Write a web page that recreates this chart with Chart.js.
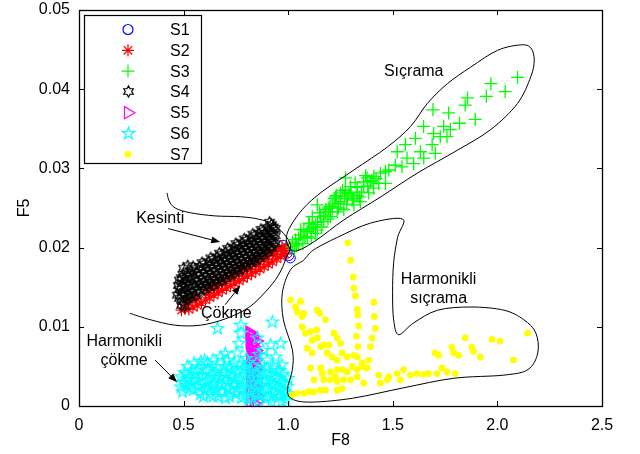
<!DOCTYPE html>
<html>
<head>
<meta charset="utf-8">
<script src="https://cdn.jsdelivr.net/npm/chart.js@4.4.0/dist/chart.umd.min.js"></script>
<style>
  html, body { margin: 0; padding: 0; background: #fff; }
  canvas { display: block; }
</style>
</head>
<body>
<canvas id="scatterChart" width="640" height="454"></canvas>
<script>
// Noms des séries et graduations
const seriesNames = ['S1', 'S2', 'S3', 'S4', 'S5', 'S6', 'S7'];
const xTicks = [0, 0.5, 1, 1.5, 2, 2.5];
const yTicks = [0, 0.01, 0.02, 0.03, 0.04, 0.05];

// Points [F8, F5]
const s1 = [[0.975, 0.0203], [0.985, 0.0198], [0.995, 0.0193], [1.003, 0.0190], [1.010, 0.0187]];

const s2 = [
  [0.490, 0.0121], [0.505, 0.0123], [0.525, 0.0122], [0.545, 0.0125], [0.565, 0.0127], [0.585, 0.0130],
  [0.605, 0.0134], [0.625, 0.0137], [0.645, 0.0140], [0.665, 0.0143], [0.685, 0.0146], [0.705, 0.0149],
  [0.725, 0.0152], [0.745, 0.0155], [0.765, 0.0158], [0.785, 0.0161], [0.805, 0.0164], [0.825, 0.0167],
  [0.845, 0.0170], [0.865, 0.0173], [0.885, 0.0176], [0.905, 0.0179], [0.925, 0.0182], [0.945, 0.0186],
  [0.965, 0.0189], [0.985, 0.0192], [0.610, 0.0147], [0.630, 0.0150], [0.650, 0.0153], [0.670, 0.0156],
  [0.690, 0.0159], [0.710, 0.0162], [0.730, 0.0165], [0.750, 0.0168], [0.770, 0.0171], [0.790, 0.0174],
  [0.810, 0.0177], [0.830, 0.0180], [0.850, 0.0183], [0.870, 0.0186], [0.890, 0.0189], [0.910, 0.0192],
  [0.930, 0.0195], [0.950, 0.0198], [0.970, 0.0201], [0.990, 0.0201], [0.515, 0.0132], [0.540, 0.0134],
  [0.560, 0.0136], [0.620, 0.0142], [0.660, 0.0148], [0.700, 0.0155], [0.740, 0.0161], [0.780, 0.0167],
  [0.820, 0.0173], [0.860, 0.0179], [0.900, 0.0185], [0.940, 0.0191], [0.980, 0.0197]
];

const s3 = [
  [2.096, 0.0415], [1.969, 0.0407], [1.947, 0.0391], [2.037, 0.0397], [1.857, 0.0389], [1.846, 0.0380],
  [1.894, 0.0362], [1.692, 0.0374], [1.767, 0.0370], [1.819, 0.0357], [1.647, 0.0353], [1.743, 0.0353],
  [1.775, 0.0349], [1.695, 0.0344], [1.727, 0.0340], [1.759, 0.0340], [1.608, 0.0338], [1.560, 0.0330],
  [1.688, 0.0330], [1.521, 0.0321], [1.632, 0.0321], [1.703, 0.0319], [1.568, 0.0313], [1.648, 0.0313],
  [1.600, 0.0306], [1.512, 0.0304], [1.544, 0.0302], [1.481, 0.0298], [1.465, 0.0296], [1.441, 0.0294],
  [1.409, 0.0290], [1.377, 0.0288], [1.393, 0.0283], [1.433, 0.0281], [1.465, 0.0281], [1.409, 0.0275],
  [1.361, 0.0277], [1.385, 0.0269], [1.274, 0.0288], [1.298, 0.0277], [1.274, 0.0273], [1.330, 0.0266],
  [1.306, 0.0260], [1.282, 0.0262], [1.250, 0.0269], [1.226, 0.0264], [1.242, 0.0256], [1.210, 0.0254],
  [1.194, 0.0250], [1.178, 0.0245], [1.139, 0.0254], [1.115, 0.0239], [1.155, 0.0239], [1.099, 0.0231],
  [1.131, 0.0229], [1.075, 0.0222], [1.059, 0.0216], [1.091, 0.0214], [1.035, 0.0210], [1.051, 0.0205],
  [1.019, 0.0201], [1.234, 0.0245], [1.266, 0.0248], [1.314, 0.0254], [1.345, 0.0258], [1.202, 0.0239],
  [1.170, 0.0233], [1.139, 0.0222], [1.030, 0.0198], [1.050, 0.0212], [1.070, 0.0205], [1.090, 0.0220],
  [1.110, 0.0212], [1.120, 0.0226], [1.140, 0.0232], [1.160, 0.0226], [1.170, 0.0240], [1.190, 0.0236],
  [1.210, 0.0245], [1.220, 0.0262], [1.240, 0.0250], [1.250, 0.0258], [1.270, 0.0265], [1.280, 0.0255],
  [1.300, 0.0270], [1.310, 0.0262], [1.330, 0.0276], [1.350, 0.0270], [1.360, 0.0283], [1.380, 0.0278],
  [1.400, 0.0285], [1.420, 0.0287], [1.060, 0.0223], [1.100, 0.0230], [1.130, 0.0218], [1.180, 0.0248],
  [1.260, 0.0272], [1.320, 0.0282], [1.020, 0.0207], [1.040, 0.0203], [1.080, 0.0213], [1.150, 0.0244],
  [1.200, 0.0252], [1.230, 0.0266], [1.290, 0.0268], [1.340, 0.0264], [1.370, 0.0291], [1.110, 0.0224]
];

const s4 = [
  [0.480, 0.0136], [0.480, 0.0147], [0.480, 0.0159],
  [0.497, 0.0132], [0.497, 0.0143], [0.497, 0.0155], [0.497, 0.0166],
  [0.515, 0.0135], [0.515, 0.0146], [0.515, 0.0157], [0.515, 0.0168],
  [0.535, 0.0137], [0.535, 0.0148], [0.535, 0.0160], [0.535, 0.0171],
  [0.556, 0.0139], [0.556, 0.0151], [0.556, 0.0161], [0.556, 0.0173],
  [0.577, 0.0144], [0.577, 0.0154], [0.577, 0.0165], [0.577, 0.0176],
  [0.598, 0.0147], [0.598, 0.0157], [0.598, 0.0168], [0.598, 0.0179],
  [0.620, 0.0150], [0.620, 0.0160], [0.620, 0.0171], [0.620, 0.0182],
  [0.641, 0.0152], [0.641, 0.0163], [0.641, 0.0174], [0.641, 0.0185],
  [0.660, 0.0156], [0.660, 0.0166], [0.660, 0.0177], [0.660, 0.0188],
  [0.682, 0.0158], [0.682, 0.0169], [0.682, 0.0180], [0.682, 0.0191],
  [0.700, 0.0161], [0.700, 0.0172], [0.700, 0.0183], [0.700, 0.0194],
  [0.722, 0.0165], [0.722, 0.0175], [0.722, 0.0186], [0.722, 0.0197],
  [0.741, 0.0167], [0.741, 0.0178], [0.741, 0.0189], [0.741, 0.0200],
  [0.760, 0.0171], [0.760, 0.0181], [0.760, 0.0192], [0.760, 0.0203],
  [0.781, 0.0173], [0.781, 0.0184], [0.781, 0.0195], [0.781, 0.0206],
  [0.800, 0.0177], [0.800, 0.0187], [0.800, 0.0198], [0.800, 0.0209],
  [0.822, 0.0180], [0.822, 0.0190], [0.822, 0.0201], [0.822, 0.0212],
  [0.840, 0.0183], [0.840, 0.0193], [0.840, 0.0204], [0.840, 0.0215],
  [0.861, 0.0186], [0.861, 0.0196], [0.861, 0.0207], [0.861, 0.0218],
  [0.880, 0.0190], [0.880, 0.0200], [0.880, 0.0210], [0.880, 0.0221],
  [0.902, 0.0194], [0.902, 0.0204], [0.902, 0.0214], [0.902, 0.0225],
  [0.920, 0.0199], [0.920, 0.0209], [0.920, 0.0219], [0.920, 0.0229],
  [0.938, 0.0205], [0.938, 0.0215], [0.938, 0.0224],
  [0.489, 0.0140], [0.489, 0.0151], [0.489, 0.0162],
  [0.506, 0.0139], [0.506, 0.0150], [0.506, 0.0161],
  [0.525, 0.0141], [0.525, 0.0152], [0.525, 0.0164],
  [0.545, 0.0143], [0.545, 0.0154], [0.545, 0.0166], [0.545, 0.0176],
  [0.566, 0.0146], [0.566, 0.0157], [0.566, 0.0168],
  [0.588, 0.0150], [0.588, 0.0160], [0.588, 0.0172], [0.588, 0.0181],
  [0.609, 0.0153], [0.609, 0.0163], [0.609, 0.0175],
  [0.630, 0.0156], [0.630, 0.0166], [0.630, 0.0178], [0.630, 0.0187],
  [0.650, 0.0159], [0.650, 0.0170], [0.650, 0.0181],
  [0.671, 0.0162], [0.671, 0.0173], [0.671, 0.0184], [0.671, 0.0193],
  [0.691, 0.0165], [0.691, 0.0176], [0.691, 0.0187],
  [0.711, 0.0168], [0.711, 0.0179], [0.711, 0.0190], [0.711, 0.0199],
  [0.731, 0.0171], [0.731, 0.0182], [0.731, 0.0193],
  [0.750, 0.0174], [0.750, 0.0185], [0.750, 0.0196], [0.750, 0.0205],
  [0.770, 0.0177], [0.770, 0.0188], [0.770, 0.0199],
  [0.790, 0.0180], [0.790, 0.0191], [0.790, 0.0202], [0.790, 0.0211],
  [0.811, 0.0183], [0.811, 0.0194], [0.811, 0.0205],
  [0.831, 0.0186], [0.831, 0.0197], [0.831, 0.0208], [0.831, 0.0217],
  [0.850, 0.0189], [0.850, 0.0200], [0.850, 0.0211],
  [0.870, 0.0193], [0.870, 0.0203], [0.870, 0.0214], [0.870, 0.0223],
  [0.891, 0.0197], [0.891, 0.0207], [0.891, 0.0218],
  [0.911, 0.0201], [0.911, 0.0211], [0.911, 0.0221], [0.911, 0.0232],
  [0.929, 0.0207], [0.929, 0.0217], [0.929, 0.0226],
  [0.470, 0.0140], [0.475, 0.0152], [0.490, 0.0127], [0.505, 0.0126], [0.500, 0.0174], [0.520, 0.0177]
];

const s5 = [
  [0.815, 0.0093], [0.818, 0.0089], [0.822, 0.0085], [0.816, 0.0081], [0.825, 0.0078], [0.819, 0.0074],
  [0.828, 0.0070], [0.821, 0.0066], [0.831, 0.0062], [0.823, 0.0058], [0.834, 0.0054], [0.826, 0.0050],
  [0.837, 0.0046], [0.828, 0.0042], [0.840, 0.0038], [0.830, 0.0034], [0.843, 0.0030], [0.832, 0.0026],
  [0.846, 0.0022], [0.834, 0.0018], [0.848, 0.0014], [0.836, 0.0010], [0.850, 0.0006], [0.838, 0.0003],
  [0.820, 0.0006], [0.822, 0.0016], [0.824, 0.0030], [0.820, 0.0044], [0.845, 0.0070], [0.848, 0.0082],
  [0.850, 0.0050], [0.817, 0.0091], [0.827, 0.0083], [0.833, 0.0075], [0.838, 0.0066], [0.842, 0.0058],
  [0.845, 0.0045], [0.847, 0.0035], [0.849, 0.0025], [0.852, 0.0012], [0.818, 0.0052], [0.818, 0.0035],
  [0.818, 0.0020], [0.820, 0.0068], [0.830, 0.0088]
];

const s6 = [
  [0.662, 0.0098], [0.924, 0.0106], [0.853, 0.0086], [0.916, 0.0077], [0.964, 0.0079], [0.773, 0.0102],
  [0.773, 0.0092], [0.765, 0.0079], [0.757, 0.0067], [0.880, 0.0070], [0.940, 0.0062], [0.700, 0.0066],
  [0.677, 0.0062], [0.709, 0.0058], [0.741, 0.0054], [0.600, 0.0057], [0.582, 0.0056], [0.550, 0.0054],
  [0.519, 0.0050], [0.614, 0.0054], [0.640, 0.0058], [0.800, 0.0060], [0.860, 0.0065], [0.900, 0.0058],
  [0.970, 0.0052], [0.487, 0.0037], [0.487, 0.0024], [0.500, 0.0030], [0.520, 0.0040], [0.530, 0.0022],
  [0.550, 0.0033], [0.560, 0.0045], [0.570, 0.0025], [0.590, 0.0038], [0.600, 0.0020], [0.610, 0.0030],
  [0.620, 0.0046], [0.630, 0.0024], [0.650, 0.0036], [0.660, 0.0050], [0.670, 0.0028], [0.680, 0.0018],
  [0.690, 0.0042], [0.700, 0.0032], [0.710, 0.0022], [0.720, 0.0048], [0.730, 0.0038], [0.740, 0.0026],
  [0.750, 0.0015], [0.760, 0.0044], [0.770, 0.0034], [0.780, 0.0022], [0.790, 0.0012], [0.800, 0.0040],
  [0.810, 0.0030], [0.820, 0.0018], [0.830, 0.0050], [0.840, 0.0036], [0.850, 0.0024], [0.860, 0.0014],
  [0.870, 0.0044], [0.880, 0.0032], [0.890, 0.0020], [0.900, 0.0010], [0.910, 0.0040], [0.920, 0.0028],
  [0.930, 0.0016], [0.940, 0.0035], [0.950, 0.0024], [0.960, 0.0012], [0.970, 0.0030], [0.980, 0.0018],
  [0.990, 0.0008], [0.995, 0.0025], [0.580, 0.0015], [0.640, 0.0012], [0.700, 0.0010], [0.750, 0.0028],
  [0.660, 0.0020], [0.540, 0.0028], [0.620, 0.0033], [0.900, 0.0048], [0.950, 0.0045], [0.850, 0.0042],
  [0.780, 0.0046], [0.720, 0.0012], [0.810, 0.0008], [0.860, 0.0006], [0.920, 0.0005], [0.970, 0.0006],
  [1.000, 0.0015], [0.495, 0.0018], [0.505, 0.0042], [0.515, 0.0026], [0.525, 0.0034], [0.545, 0.0020],
  [0.555, 0.0040], [0.565, 0.0032], [0.575, 0.0046], [0.585, 0.0027], [0.595, 0.0012], [0.605, 0.0044],
  [0.615, 0.0022], [0.625, 0.0015], [0.635, 0.0040], [0.645, 0.0028], [0.655, 0.0043], [0.665, 0.0012],
  [0.675, 0.0036], [0.685, 0.0026], [0.695, 0.0050], [0.705, 0.0040], [0.715, 0.0030], [0.725, 0.0020],
  [0.735, 0.0044], [0.745, 0.0034], [0.755, 0.0022], [0.765, 0.0052], [0.775, 0.0010], [0.785, 0.0030],
  [0.795, 0.0048], [0.805, 0.0020], [0.815, 0.0044], [0.825, 0.0010], [0.835, 0.0028], [0.845, 0.0016],
  [0.855, 0.0034], [0.865, 0.0026], [0.875, 0.0014], [0.885, 0.0042], [0.895, 0.0030], [0.905, 0.0022],
  [0.915, 0.0012], [0.925, 0.0036], [0.935, 0.0026], [0.945, 0.0014], [0.955, 0.0032], [0.965, 0.0020],
  [0.975, 0.0040], [0.985, 0.0028], [0.990, 0.0016], [0.998, 0.0035], [0.960, 0.0045], [0.930, 0.0048],
  [0.870, 0.0052], [0.810, 0.0055]
];

const s7 = [
  [1.285, 0.0206], [1.298, 0.0184], [1.311, 0.0163], [1.314, 0.0149], [1.322, 0.0139], [1.330, 0.0122],
  [1.333, 0.0115], [1.337, 0.0101], [1.326, 0.0088], [1.333, 0.0075], [1.409, 0.0131], [1.412, 0.0113],
  [1.417, 0.0098], [1.401, 0.0086], [1.393, 0.0075], [1.385, 0.0058], [1.011, 0.0134], [1.035, 0.0125],
  [1.059, 0.0132], [1.043, 0.0119], [1.067, 0.0113], [1.075, 0.0117], [1.139, 0.0121], [1.151, 0.0117],
  [1.178, 0.0109], [1.067, 0.0100], [1.083, 0.0092], [1.107, 0.0094], [1.136, 0.0096], [1.115, 0.0083],
  [1.139, 0.0086], [1.091, 0.0073], [1.115, 0.0067], [1.155, 0.0075], [1.170, 0.0077], [1.194, 0.0077],
  [1.218, 0.0092], [1.234, 0.0086], [1.250, 0.0079], [1.186, 0.0067], [1.210, 0.0062], [1.234, 0.0058],
  [1.258, 0.0067], [1.282, 0.0062], [1.314, 0.0064], [1.330, 0.0062], [1.354, 0.0054], [1.107, 0.0048],
  [1.155, 0.0048], [1.163, 0.0041], [1.202, 0.0043], [1.226, 0.0037], [1.234, 0.0046], [1.258, 0.0046],
  [1.282, 0.0043], [1.306, 0.0050], [1.330, 0.0046], [1.354, 0.0050], [1.377, 0.0048], [1.202, 0.0033],
  [1.234, 0.0031], [1.266, 0.0033], [1.298, 0.0033], [1.330, 0.0037], [1.361, 0.0029], [1.170, 0.0033],
  [1.123, 0.0033], [1.234, 0.0020], [1.258, 0.0022], [1.019, 0.0014], [1.043, 0.0016], [1.075, 0.0016],
  [1.099, 0.0018], [1.123, 0.0018], [1.155, 0.0020], [1.178, 0.0020], [1.433, 0.0039], [1.441, 0.0029],
  [1.473, 0.0033], [1.481, 0.0037], [1.520, 0.0041], [1.536, 0.0033], [1.552, 0.0046], [1.584, 0.0039],
  [1.616, 0.0041], [1.648, 0.0040], [1.671, 0.0041], [1.711, 0.0041], [1.735, 0.0048], [1.759, 0.0043],
  [1.799, 0.0041], [1.703, 0.0067], [1.719, 0.0064], [1.783, 0.0074], [1.791, 0.0067], [1.815, 0.0064],
  [1.846, 0.0086], [1.878, 0.0074], [1.886, 0.0069], [1.918, 0.0062], [1.974, 0.0084], [2.013, 0.0082],
  [2.077, 0.0058], [2.144, 0.0092]
];

// Contours dessinés à la main sur la figure (en unités des axes)
const regionSicrama = [
  [0.995, 0.0218], [1.058, 0.0245], [1.154, 0.0269], [1.314, 0.0298], [1.474, 0.0327], [1.585, 0.0353],
  [1.665, 0.0382], [1.761, 0.0407], [1.873, 0.0428], [2.000, 0.0449], [2.112, 0.0456], [2.160, 0.0452],
  [2.176, 0.0437], [2.160, 0.0416], [2.096, 0.0382], [1.968, 0.0349], [1.809, 0.0323], [1.617, 0.0294],
  [1.442, 0.0264], [1.266, 0.0235], [1.138, 0.0210], [1.043, 0.0196], [1.002, 0.0201]
];
const regionHarmSicrama = [
  [1.547, 0.0236], [1.394, 0.0231], [1.236, 0.0213], [1.121, 0.0197], [1.073, 0.0184], [1.011, 0.0172],
  [0.972, 0.0143], [0.977, 0.0109], [1.020, 0.0071], [1.020, 0.0046], [0.996, 0.0020], [1.025, 0.0008],
  [1.121, 0.0005], [1.312, 0.0010], [1.552, 0.0023], [1.791, 0.0035], [2.031, 0.0039], [2.146, 0.0046],
  [2.193, 0.0067], [2.184, 0.0092], [2.126, 0.0109], [2.031, 0.0121], [1.873, 0.0125], [1.715, 0.0121],
  [1.600, 0.0105], [1.528, 0.0090], [1.504, 0.0109], [1.499, 0.0143], [1.504, 0.0181], [1.523, 0.0213]
];
const curveLens = [
  [0.421, 0.0269], [0.431, 0.0259], [0.460, 0.0250], [0.532, 0.0244], [0.651, 0.0240], [0.771, 0.0239],
  [0.857, 0.0236], [0.924, 0.0230], [0.977, 0.0218], [1.011, 0.0203], [0.991, 0.0187], [0.953, 0.0165],
  [0.891, 0.0144], [0.809, 0.0124], [0.699, 0.0110], [0.580, 0.0102], [0.460, 0.0102], [0.340, 0.0109],
  [0.244, 0.0117]
];

// Flèches [départ, arrivée] et étiquettes
const arrows = [
  [[0.426, 0.0224], [0.675, 0.0207]],
  [[0.699, 0.0128], [0.771, 0.0152]],
  [[0.364, 0.0058], [0.469, 0.0030]]
];
const labels = [
  ['Sıçrama', 1.600, 0.0422],
  ['Kesinti', 0.388, 0.0236],
  ['Çökme', 0.704, 0.0117],
  ['Harmonikli', 0.216, 0.0081],
  ['çökme', 0.216, 0.0057],
  ['Harmonikli', 1.719, 0.0160],
  ['sıçrama', 1.719, 0.0136]
];

const FONT = '"Liberation Sans", Arial, Helvetica, sans-serif';

// Marqueurs MATLAB absents de Chart.js : hexagramme et pentagramme
function starCanvas(n, outer, inner, color) {
  const size = Math.ceil(outer * 2 + 4);
  const c = document.createElement('canvas');
  c.width = size;
  c.height = size;
  const g = c.getContext('2d');
  g.strokeStyle = color;
  g.lineWidth = 1.2;
  g.beginPath();
  for (let i = 0; i < n * 2; i++) {
    const r = i % 2 === 0 ? outer : inner;
    const a = -Math.PI / 2 + i * Math.PI / n;
    const x = size / 2 + r * Math.cos(a);
    const y = size / 2 + r * Math.sin(a);
    if (i === 0) g.moveTo(x, y); else g.lineTo(x, y);
  }
  g.closePath();
  g.stroke();
  return c;
}
const hexagram = starCanvas(6, 5.5, 3.2, '#000000');
const pentagram = starCanvas(5, 6.5, 2.6, '#00ffff');

const toXY = arr => arr.map(p => ({ x: p[0], y: p[1] }));

const datasets = [
  { data: toXY(s1), pointStyle: 'circle', pointRadius: 5, pointBorderColor: '#0000ff', pointBackgroundColor: 'rgba(0,0,0,0)', pointBorderWidth: 1 },
  { data: toXY(s2), pointStyle: 'star', pointRadius: 6, pointBorderColor: '#ff0000', pointBackgroundColor: 'rgba(0,0,0,0)', pointBorderWidth: 1.2 },
  { data: toXY(s3), pointStyle: 'cross', pointRadius: 6.5, pointBorderColor: '#00ff00', pointBackgroundColor: 'rgba(0,0,0,0)', pointBorderWidth: 1.3 },
  { data: toXY(s4), pointStyle: hexagram, pointRadius: 5 },
  { data: toXY(s5), pointStyle: 'triangle', rotation: 90, pointRadius: 7, pointBorderColor: '#ff00ff', pointBackgroundColor: 'rgba(0,0,0,0)', pointBorderWidth: 1.4 },
  { data: toXY(s6), pointStyle: pentagram, pointRadius: 6 },
  { data: toXY(s7), pointStyle: 'circle', pointRadius: 3.4, pointBorderWidth: 0, pointBackgroundColor: '#ffff00', pointBorderColor: '#ffff00' }
].map((d, i) => Object.assign(d, { label: seriesNames[i], order: 7 - i, showLine: false }));

// Courbe lissée (Catmull-Rom) passant par les points
function smoothPath(ctx, pts, closed) {
  const n = pts.length;
  const at = i => closed ? pts[(i + n) % n] : pts[Math.max(0, Math.min(n - 1, i))];
  ctx.beginPath();
  ctx.moveTo(pts[0][0], pts[0][1]);
  const segs = closed ? n : n - 1;
  for (let i = 0; i < segs; i++) {
    const p0 = at(i - 1), p1 = at(i), p2 = at(i + 1), p3 = at(i + 2);
    ctx.bezierCurveTo(
      p1[0] + (p2[0] - p0[0]) / 6, p1[1] + (p2[1] - p0[1]) / 6,
      p2[0] - (p3[0] - p1[0]) / 6, p2[1] - (p3[1] - p1[1]) / 6,
      p2[0], p2[1]
    );
  }
  if (closed) ctx.closePath();
}

function drawArrow(ctx, a, b) {
  const ang = Math.atan2(b[1] - a[1], b[0] - a[0]);
  const len = 9, half = 3.5;
  const bx = b[0] - len * Math.cos(ang), by = b[1] - len * Math.sin(ang);
  ctx.beginPath();
  ctx.moveTo(a[0], a[1]);
  ctx.lineTo(bx, by);
  ctx.stroke();
  ctx.beginPath();
  ctx.moveTo(b[0], b[1]);
  ctx.lineTo(bx + half * Math.sin(ang), by - half * Math.cos(ang));
  ctx.lineTo(bx - half * Math.sin(ang), by + half * Math.cos(ang));
  ctx.closePath();
  ctx.fill();
}

function legendMarker(ctx, i, x, y) {
  ctx.save();
  ctx.lineWidth = 1.2;
  if (i === 0) {
    ctx.strokeStyle = '#0000ff';
    ctx.beginPath(); ctx.arc(x, y, 5, 0, Math.PI * 2); ctx.stroke();
  } else if (i === 1 || i === 2) {
    ctx.strokeStyle = i === 1 ? '#ff0000' : '#00ff00';
    const r = i === 1 ? 6 : 6.5;
    ctx.beginPath();
    ctx.moveTo(x - r, y); ctx.lineTo(x + r, y);
    ctx.moveTo(x, y - r); ctx.lineTo(x, y + r);
    if (i === 1) {
      const d = r * Math.SQRT1_2;
      ctx.moveTo(x - d, y - d); ctx.lineTo(x + d, y + d);
      ctx.moveTo(x - d, y + d); ctx.lineTo(x + d, y - d);
    }
    ctx.stroke();
  } else if (i === 3) {
    ctx.drawImage(hexagram, Math.round(x - hexagram.width / 2), Math.round(y - hexagram.height / 2));
  } else if (i === 4) {
    ctx.strokeStyle = '#ff00ff';
    ctx.beginPath();
    ctx.moveTo(x + 7, y);
    ctx.lineTo(x - 3.5, y - 6.06);
    ctx.lineTo(x - 3.5, y + 6.06);
    ctx.closePath();
    ctx.stroke();
  } else if (i === 5) {
    ctx.drawImage(pentagram, Math.round(x - pentagram.width / 2), Math.round(y - pentagram.height / 2));
  } else {
    ctx.fillStyle = '#ffff00';
    ctx.beginPath(); ctx.arc(x, y, 3.4, 0, Math.PI * 2); ctx.fill();
  }
  ctx.restore();
}

const decorPlugin = {
  id: 'decor',
  afterDatasetsDraw(chart) {
    const ctx = chart.ctx;
    const xs = chart.scales.x, ys = chart.scales.y;
    const px = p => [xs.getPixelForValue(p[0]), ys.getPixelForValue(p[1])];
    ctx.save();
    ctx.strokeStyle = '#000';
    ctx.fillStyle = '#000';
    ctx.lineWidth = 1;
    smoothPath(ctx, regionSicrama.map(px), true); ctx.stroke();
    smoothPath(ctx, regionHarmSicrama.map(px), true); ctx.stroke();
    smoothPath(ctx, curveLens.map(px), false); ctx.stroke();
    arrows.forEach(([a, b]) => drawArrow(ctx, px(a), px(b)));
    ctx.font = '16px ' + FONT;
    ctx.textAlign = 'center';
    ctx.textBaseline = 'middle';
    labels.forEach(([t, x, y]) => ctx.fillText(t, xs.getPixelForValue(x), ys.getPixelForValue(y)));
    ctx.restore();
  },
  afterDraw(chart) {
    const ctx = chart.ctx;
    const a = chart.chartArea;
    const xs = chart.scales.x, ys = chart.scales.y;
    ctx.save();

    // Légende
    const lx = 84.5, ly = 15.5, lw = 117, lh = 148;
    ctx.fillStyle = '#fff';
    ctx.fillRect(lx, ly, lw, lh);
    ctx.strokeStyle = '#000';
    ctx.lineWidth = 1.2;
    ctx.strokeRect(lx, ly, lw, lh);
    ctx.font = '16px ' + FONT;
    ctx.textAlign = 'left';
    ctx.textBaseline = 'middle';
    seriesNames.forEach((name, i) => {
      const y = 29.5 + i * 20.8;
      legendMarker(ctx, i, 128, y);
      ctx.fillStyle = '#000';
      ctx.fillText(name, 170, y + 1);
    });

    // Cadre et graduations vers l'intérieur
    ctx.strokeStyle = '#000';
    ctx.lineWidth = 1.3;
    ctx.strokeRect(a.left + 0.5, a.top + 0.5, a.right - a.left, a.bottom - a.top);
    ctx.lineWidth = 1;
    ctx.beginPath();
    xTicks.forEach(v => {
      const x = Math.round(xs.getPixelForValue(v)) + 0.5;
      ctx.moveTo(x, a.bottom); ctx.lineTo(x, a.bottom - 5);
      ctx.moveTo(x, a.top); ctx.lineTo(x, a.top + 5);
    });
    yTicks.forEach(v => {
      const y = Math.round(ys.getPixelForValue(v)) + 0.5;
      ctx.moveTo(a.left, y); ctx.lineTo(a.left + 5, y);
      ctx.moveTo(a.right, y); ctx.lineTo(a.right - 5, y);
    });
    ctx.stroke();

    // Titres des axes
    ctx.fillStyle = '#000';
    ctx.font = '16px ' + FONT;
    ctx.textAlign = 'center';
    ctx.textBaseline = 'middle';
    ctx.fillText('F8', (a.left + a.right) / 2, 441);
    ctx.translate(25, (a.top + a.bottom) / 2);
    ctx.rotate(-Math.PI / 2);
    ctx.fillText('F5', 0, 0);
    ctx.restore();
  }
};

const noPad = s => { s.paddingTop = 0; s.paddingBottom = 0; s.paddingLeft = 0; s.paddingRight = 0; };

const ctx = document.getElementById('scatterChart').getContext('2d');
const scatterChart = new Chart(ctx, {
  type: 'scatter',
  data: { datasets: datasets },
  options: {
    responsive: false,
    animation: false,
    events: [],
    layout: { padding: { top: 10, right: 38, left: 0, bottom: 0 } },
    plugins: { legend: { display: false }, tooltip: { enabled: false } },
    scales: {
      x: {
        type: 'linear', min: 0, max: 2.5,
        grid: { display: false, drawTicks: false },
        border: { display: false },
        ticks: { stepSize: 0.5, maxRotation: 0, padding: 10, color: '#000', font: { family: FONT, size: 16 } },
        afterFit: s => { s.height = 48; noPad(s); }
      },
      y: {
        type: 'linear', min: 0, max: 0.05,
        grid: { display: false, drawTicks: false },
        border: { display: false },
        ticks: { stepSize: 0.01, padding: 9, color: '#000', font: { family: FONT, size: 16 } },
        afterFit: s => { s.width = 79; noPad(s); }
      }
    }
  },
  plugins: [decorPlugin]
});
</script>
</body>
</html>
